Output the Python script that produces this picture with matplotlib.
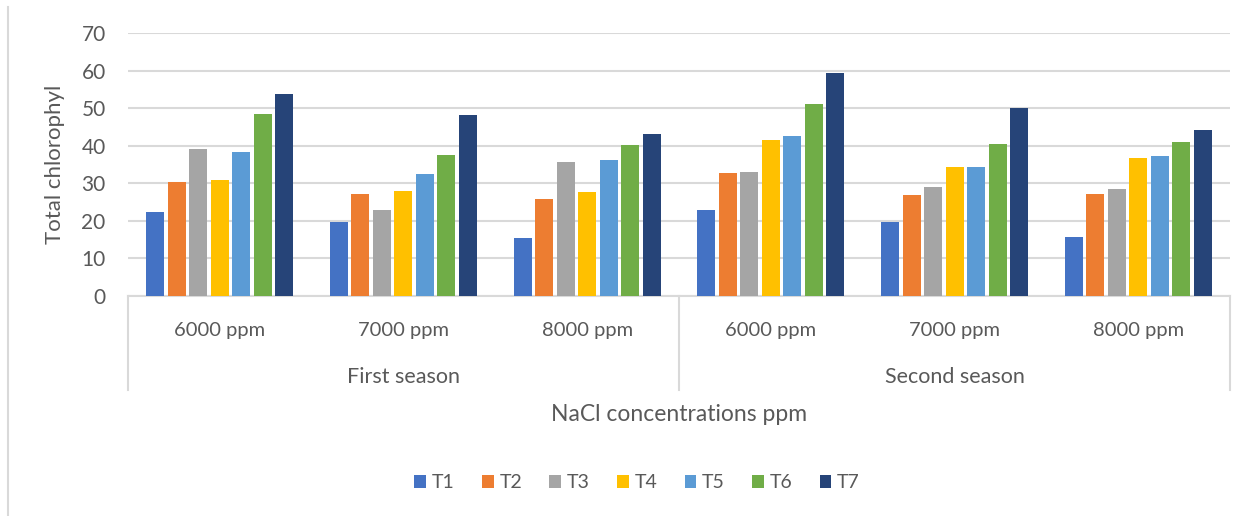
import matplotlib.pyplot as plt
import numpy as np
from matplotlib.lines import Line2D

plt.rcParams["font.family"] = ["Lato", "DejaVu Sans"]

# data
concentrations = ["6000 ppm", "7000 ppm", "8000 ppm"]
seasons = ["First season", "Second season"]
treatments = ["T1", "T2", "T3", "T4", "T5", "T6", "T7"]

T1 = [22.4, 19.7, 15.5, 22.9, 19.7, 15.7]
T2 = [30.4, 27.2, 25.8, 32.8, 26.9, 27.2]
T3 = [39.2, 22.9, 35.7, 33.0, 29.0, 28.5]
T4 = [30.9, 28.0, 27.7, 41.6, 34.4, 36.8]
T5 = [38.4, 32.5, 36.2, 42.6, 34.4, 37.3]
T6 = [48.5, 37.6, 40.2, 51.2, 40.5, 41.0]
T7 = [53.8, 48.2, 43.2, 59.4, 50.1, 44.2]
series = [T1, T2, T3, T4, T5, T6, T7]

colors = ["#4472C4", "#ED7D31", "#A5A5A5", "#FFC000",
          "#5B9BD5", "#70AD47", "#264478"]

TEXT = "#595959"
GRID = "#D9D9D9"

fig = plt.figure(figsize=(12.54, 5.16), dpi=100)
ax = fig.add_axes([0.102, 0.4264, 0.879, 0.509])

n_groups = len(seasons) * len(concentrations)
x = np.arange(n_groups)
pitch = 0.117
width = 0.098
for i, (name, vals) in enumerate(zip(treatments, series)):
    offs = (i - (len(treatments) - 1) / 2) * pitch
    ax.bar(x + offs, vals, width=width, color=colors[i], label=name, zorder=3)

ax.set_xlim(-0.5, n_groups - 0.5)
ax.set_ylim(0, 70)
ax.set_yticks(range(0, 71, 10))
ax.grid(True, axis="y", color=GRID, linewidth=1.5, zorder=0)
for s in ["top", "right", "left"]:
    ax.spines[s].set_visible(False)
ax.spines["bottom"].set_color(GRID)
ax.spines["bottom"].set_linewidth(1.5)
ax.tick_params(axis="y", length=0, pad=16, labelsize=15, labelcolor=TEXT)
ax.tick_params(axis="x", length=0, pad=19, labelsize=14.5, labelcolor=TEXT)
ax.set_xticks(x)
ax.set_xticklabels(concentrations * len(seasons))
ax.set_ylabel("Total chlorophyl", fontsize=16, color=TEXT, labelpad=12)

# multi-level category axis separators
for xf in [0.0, 0.5, 1.0]:
    ax.add_line(Line2D([xf, xf], [0, -0.358], transform=ax.transAxes,
                       color=GRID, linewidth=1.5, clip_on=False))
for j, name in enumerate(seasons):
    ax.text(0.25 + 0.5 * j, -0.308, name, transform=ax.transAxes,
            ha="center", va="center", fontsize=15.5, color=TEXT)

ax.text(0.5, -0.453, "NaCl concentrations ppm", transform=ax.transAxes,
        ha="center", va="center", fontsize=16.5, color=TEXT)

leg = ax.legend(loc="center", bbox_to_anchor=(0.462, -0.712), ncol=7,
                frameon=False, fontsize=14, handlelength=0.6,
                handleheight=0.6, handletextpad=0.3, columnspacing=1.4)
for t in leg.get_texts():
    t.set_color(TEXT)

# chart border remnant on the left
fig.add_artist(Line2D([0.0065, 0.0065], [0.0, 0.986], transform=fig.transFigure,
                      color=GRID, linewidth=1.5))

fig.savefig("out.png", dpi=100)
